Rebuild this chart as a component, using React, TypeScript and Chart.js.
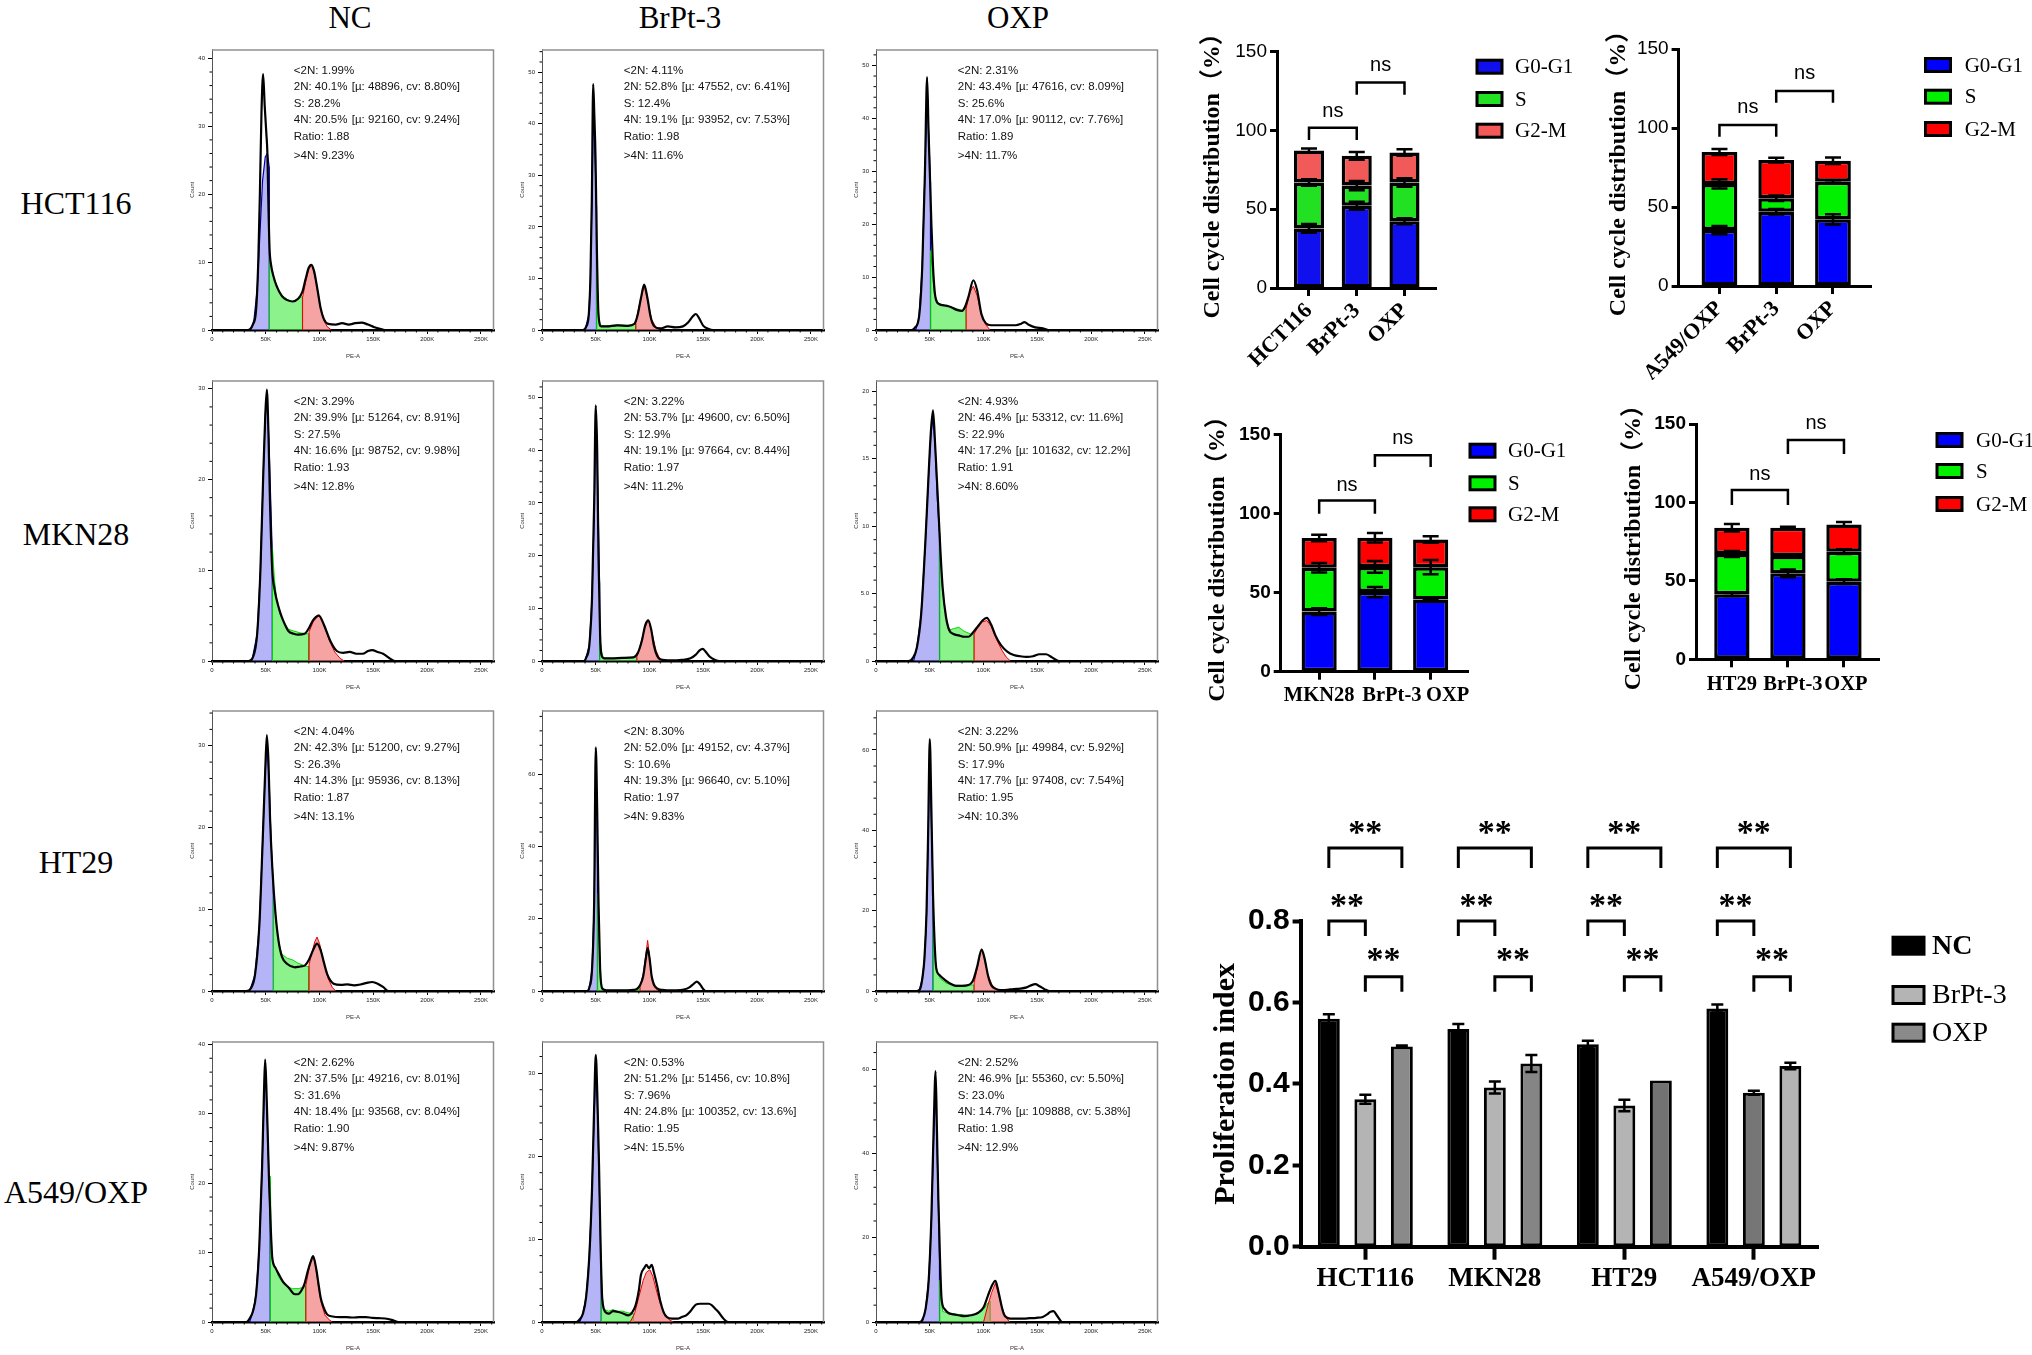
import React, { useEffect, useRef } from 'react';
import { Chart, registerables } from 'chart.js';

Chart.register(...registerables);
Chart.defaults.color = '#000';

const SERIF = "'Liberation Serif', 'Times New Roman', serif";
const SERIF_CJK = "'Liberation Serif', 'Noto Sans CJK SC', 'Noto Sans CJK JP', serif";
const SANS = "'Liberation Sans', Arial, sans-serif";
const NARROW = "'Liberation Sans Narrow', 'Liberation Sans', Arial, sans-serif";

// ---------------- text / categories ----------------
const COLUMN_TITLES = ['NC', 'BrPt-3', 'OXP'];
const ROW_TITLES = ['HCT116', 'MKN28', 'HT29', 'A549/OXP'];
const PEA_TICKS = [0, 50, 100, 150, 200, 250];

// ---------------- flow histograms: [PE-A (K), count] ----------------
const HCT116_NC_total = [[0,0],[33,0],[38,0.8],[41,3],[43,10],[44.5,20],[46,32],[47.5,37.7],[49,33],[50.5,29],[51.5,26],[52.5,18],[53.5,12],[55,9.5],[57,8],[60,6.5],[65,5],[70,4.4],[75,4.2],[80,4.6],[84,5.6],[87,7.5],[90,9.2],[92.5,9.6],[95,8.6],[98,6],[101,3.2],[104,1.6],[108,0.9],[115,0.8],[121,1.0],[127,0.8],[133,1.0],[139,1.1],[145,0.8],[151,0.4],[158,0.1],[162,0],[262,0]];
const HCT116_NC_g1 = [[36,0],[39,1.5],[42,6],[44.5,14],[47,22],[49.5,25.5],[51.5,26],[53.2,24],[53.3,0]];
const HCT116_NC_s = [[53.3,0],[53.4,11],[55,9.3],[58,7.5],[62,5.8],[66,5],[70,4.5],[75,4.2],[80,4.6],[84,4.9],[84.1,0]];
const HCT116_NC_g2 = [[84.1,0],[84.2,4.8],[87,7],[90,9],[92.5,9.5],[95,8.4],[98,6],[101,3.2],[104,1.4],[107,0.5],[111,0]];
const HCT116_NC_stats = ['<2N: 1.99%', '2N: 40.1%', 'S: 28.2%', '4N: 20.5%', 'Ratio: 1.88', '>4N: 9.23%'];
const HCT116_NC_fits = ['[µ: 48896, cv: 8.80%]', '[µ: 92160, cv: 9.24%]'];

const HCT116_BrPt_total = [[0,0],[38,0],[41,0.6],[43.5,3],[45,10],[46.3,25],[47.6,47.7],[48.6,42],[49.8,33],[51,16],[52.5,3],[55,0.7],[60,0.7],[70,0.9],[80,0.8],[86,1.2],[89,3],[92,6.2],[95,8.8],[98,6.2],[101,2.5],[104,0.8],[110,0.3],[117,0.7],[124,0.5],[131,0.7],[136,1.5],[140,2.6],[143,3.1],[146,2.3],[150,0.8],[155,0.2],[159,0],[262,0]];
const HCT116_BrPt_g1 = [[40,0],[43.5,3],[45,10],[46.3,24],[47.6,42],[48.6,38],[49.8,30],[50.6,24],[50.7,0]];
const HCT116_BrPt_s = [[50.7,0],[50.8,16],[51.5,8],[53,2],[55,0.8],[60,0.8],[70,1],[80,0.9],[87,1.2],[87.1,0]];
const HCT116_BrPt_g2 = [[87.1,0],[87.2,1.5],[90,4.5],[95,8.5],[98,6],[102,2],[106,0.5],[109,0]];
const HCT116_BrPt_stats = ['<2N: 4.11%', '2N: 52.8%', 'S: 12.4%', '4N: 19.1%', 'Ratio: 1.98', '>4N: 11.6%'];
const HCT116_BrPt_fits = ['[µ: 47552, cv: 6.41%]', '[µ: 93952, cv: 7.53%]'];

const HCT116_OXP_total = [[0,0],[33,0],[36,0.4],[40,2.5],[43,12],[45.5,30],[47.5,47.8],[48.8,38],[50,30],[51.5,20],[53,12],[55,6.5],[58,5],[65,4.6],[70,4.3],[75,3.8],[80,3.6],[83,4.5],[86,6.3],[90.5,9.4],[94,7.5],[98,3],[102,1.3],[107,0.9],[120,0.9],[130,0.9],[135,1.2],[138,1.5],[142,1.0],[148,0.5],[155,0.3],[160,0],[262,0]];
const HCT116_OXP_g1 = [[37,0],[40,2.5],[43,12],[45.5,30],[47.5,45],[49,37],[50.6,28],[50.7,0]];
const HCT116_OXP_s = [[50.7,0],[50.8,15],[52,12],[54,7],[58,5],[65,4.6],[72,4.2],[80,3.7],[83.6,4.2],[83.7,0]];
const HCT116_OXP_g2 = [[83.7,0],[83.8,4],[87,7],[90.5,8.3],[94,6.5],[98,3],[102,1],[106,0]];
const HCT116_OXP_stats = ['<2N: 2.31%', '2N: 43.4%', 'S: 25.6%', '4N: 17.0%', 'Ratio: 1.89', '>4N: 11.7%'];
const HCT116_OXP_fits = ['[µ: 47616, cv: 8.09%]', '[µ: 90112, cv: 7.76%]'];

const MKN28_NC_total = [[0,0],[34,0],[38,0.4],[42,3],[45,10],[47.5,20],[49.5,27],[51,29.9],[52.5,25],[54,17],[56,10],[58,8],[60,6.8],[63,5.5],[66,4.5],[71,3.3],[76,3],[80,2.9],[86,3],[90,3.6],[94,4.5],[99.4,5.0],[104,4],[110,2.2],[116,1.1],[122,0.9],[128,1.0],[134,0.8],[140,0.8],[145,1.1],[149,1.2],[154,1.0],[159,0.8],[165,0.3],[170,0],[262,0]];
const MKN28_NC_g1 = [[37,0],[42,3],[45,10],[47.5,20],[49.5,27],[51,29.5],[53,24],[56,12],[56.1,0]];
const MKN28_NC_s = [[56.1,0],[56.2,12.5],[58,9],[60,7],[63,5.2],[66,4.5],[71,3.5],[76,3.3],[82,3.1],[88,3],[90,3],[90.1,0]];
const MKN28_NC_g2 = [[90.1,0],[90.2,3.2],[94,4.3],[99.4,5.1],[104,4],[109,2.3],[114,1],[119,0.3],[123,0]];
const MKN28_NC_stats = ['<2N: 3.29%', '2N: 39.9%', 'S: 27.5%', '4N: 16.6%', 'Ratio: 1.93', '>4N: 12.8%'];
const MKN28_NC_fits = ['[µ: 51264, cv: 8.91%]', '[µ: 98752, cv: 9.98%]'];

const MKN28_BrPt_total = [[0,0],[39,0],[41,0.6],[44,3],[46.5,12],[48.5,30],[50,48.5],[51.3,40],[52.5,20],[54,5],[55.5,1],[58,0.5],[65,0.5],[75,0.6],[85,0.7],[89,1.5],[93,4],[96,6.8],[98.8,7.7],[101.5,6],[104,3],[107,1],[110,0.3],[120,0.1],[130,0.2],[138,0.5],[143,1.2],[146.5,2.0],[149.4,2.3],[152,1.8],[156,0.8],[161,0.2],[165,0],[262,0]];
const MKN28_BrPt_g1 = [[40,0],[44,3],[46.5,12],[48.5,28],[50,46],[51.3,38],[53.5,15],[53.6,0]];
const MKN28_BrPt_s = [[53.6,0],[53.7,5.2],[55,2],[57,0.6],[65,0.5],[75,0.6],[85,0.7],[88,0.6],[88.1,0]];
const MKN28_BrPt_g2 = [[88.1,0],[88.2,0.8],[91,2.5],[95,6],[98.8,7.8],[102,5.5],[106,2],[109,0.6],[112,0]];
const MKN28_BrPt_stats = ['<2N: 3.22%', '2N: 53.7%', 'S: 12.9%', '4N: 19.1%', 'Ratio: 1.97', '>4N: 11.2%'];
const MKN28_BrPt_fits = ['[µ: 49600, cv: 6.50%]', '[µ: 97664, cv: 8.44%]'];

const MKN28_OXP_total = [[0,0],[30,0],[34,0.2],[38,1],[42,3.5],[46,9],[49,14],[51,17],[53,18.6],[55,16],[57.8,11.6],[60,8],[62,5.4],[65,3.3],[68,2.3],[72,2],[77,1.9],[82,1.8],[86,1.8],[90,2.1],[95,2.6],[99,3.0],[103,3.2],[107,2.7],[111,1.9],[116,1.2],[122,0.7],[128,0.45],[134,0.35],[140,0.3],[146,0.35],[152,0.5],[158,0.5],[163,0.3],[170,0],[262,0]];
const MKN28_OXP_g1 = [[35,0],[38,1],[42,3.5],[46,9],[49,14],[51,16.8],[53,18],[55,16],[57,12],[59,9.5],[59.1,0]];
const MKN28_OXP_s = [[59.1,0],[59.2,9.5],[60.5,7],[62,5],[65,3.3],[68,2.3],[72,2.4],[77,2.5],[82,2.2],[88,2],[91,2],[91.1,0]];
const MKN28_OXP_g2 = [[91.1,0],[91.2,2],[95,2.6],[99,2.9],[103,3.0],[107,2.6],[112,1.6],[117,0.8],[121,0.3],[125,0]];
const MKN28_OXP_stats = ['<2N: 4.93%', '2N: 46.4%', 'S: 22.9%', '4N: 17.2%', 'Ratio: 1.91', '>4N: 8.60%'];
const MKN28_OXP_fits = ['[µ: 53312, cv: 11.6%]', '[µ: 101632, cv: 12.2%]'];

const HT29_NC_total = [[0,0],[32,0],[36,0.3],[40,2],[44,8],[47,18],[49.5,27],[51,31.3],[52.5,28],[54,21],[56,15.2],[59,9.5],[62,6],[65,4.2],[70,3.3],[77,2.9],[82,3],[86,3.1],[90,3.8],[94,5],[97.6,5.8],[101,5],[104,3.5],[107,2.1],[110,1.3],[113,0.9],[120,0.75],[126,0.8],[132,0.7],[138,0.8],[144,1.0],[149,1.1],[154,0.9],[159,0.5],[164,0],[262,0]];
const HT29_NC_g1 = [[35,0],[40,2],[44,8],[47,18],[49.5,27],[51,30.5],[53,26],[55,18],[57,13],[57.1,0]];
const HT29_NC_s = [[57.1,0],[57.2,13],[58.5,10],[60,8],[62,6],[65,4.5],[70,4],[75,3.8],[80,3.4],[88,3],[90,3],[90.1,0]];
const HT29_NC_g2 = [[90.1,0],[90.2,3.2],[93,4.8],[95.5,6],[97.6,6.6],[100,5.8],[104,3.5],[108,1.5],[112,0.4],[115,0]];
const HT29_NC_stats = ['<2N: 4.04%', '2N: 42.3%', 'S: 26.3%', '4N: 14.3%', 'Ratio: 1.87', '>4N: 13.1%'];
const HT29_NC_fits = ['[µ: 51200, cv: 9.27%]', '[µ: 95936, cv: 8.13%]'];

const HT29_BrPt_total = [[0,0],[42,0],[44,1],[46.5,6],[48.5,25],[50,67.4],[51.3,50],[52.5,25],[54,6.3],[56,0.7],[60,0.2],[70,0.2],[80,0.2],[85,0.3],[88,0.5],[91,1.5],[94,4],[96.5,9],[98.2,11.9],[100,9],[102,4],[104,1.8],[107,0.7],[112,0.3],[116,0.2],[125,0.2],[132,0.4],[137,1],[141,2],[144,2.6],[147,1.8],[150,0.5],[152,0],[262,0]];
const HT29_BrPt_g1 = [[43,0],[44,1],[46.5,6],[48.5,24],[50,60],[51,48],[51.5,40],[51.6,0]];
const HT29_BrPt_s = [[51.6,0],[51.7,27],[53,14],[54,8],[55,3],[56,0.6],[60,0.2],[70,0.2],[80,0.2],[88,0.5],[91,0.6],[91.1,0]];
const HT29_BrPt_g2 = [[91.1,0],[91.2,1.5],[94,4.5],[96.5,10],[98.2,14],[100,9.5],[102,4],[105,1],[108,0]];
const HT29_BrPt_stats = ['<2N: 8.30%', '2N: 52.0%', 'S: 10.6%', '4N: 19.3%', 'Ratio: 1.97', '>4N: 9.83%'];
const HT29_BrPt_fits = ['[µ: 49152, cv: 4.37%]', '[µ: 96640, cv: 5.10%]'];

const HT29_OXP_total = [[0,0],[38,0],[41,0.5],[43,3],[45,8],[47,20],[48.5,40],[50,62.7],[51.5,45],[53,24],[54.5,12],[56,5.7],[59,4],[62,3.2],[68,2],[74,1.3],[80,1.3],[86,1.5],[90,2.5],[94,6],[98.2,10.3],[101,8],[104,4],[107,1.5],[111,0.6],[116,0.25],[122,0.3],[128,0.5],[134,0.6],[140,0.9],[144,1.4],[148,1.7],[152,1.2],[157,0.4],[161,0],[262,0]];
const HT29_OXP_g1 = [[40,0],[43,3],[45,8],[47,19],[48.5,38],[50,60],[51.5,42],[53,25],[53.1,0]];
const HT29_OXP_s = [[53.1,0],[53.2,24],[54,14],[55,8],[57,4.5],[60,3],[65,2],[70,1.5],[80,1.4],[88,1.5],[91,1.5],[91.1,0]];
const HT29_OXP_g2 = [[91.1,0],[91.2,2],[94,5.5],[96.5,9],[98.2,10.5],[101,8],[104,4],[108,1.5],[112,0.4],[115,0]];
const HT29_OXP_stats = ['<2N: 3.22%', '2N: 50.9%', 'S: 17.9%', '4N: 17.7%', 'Ratio: 1.95', '>4N: 10.3%'];
const HT29_OXP_fits = ['[µ: 49984, cv: 5.92%]', '[µ: 97408, cv: 7.54%]'];

const A549_NC_total = [[0,0],[32,0],[35,0.5],[38,1.5],[41,4],[44,11],[46.5,22],[48.3,33],[49.4,37.8],[50.5,34],[52,26],[53,20.4],[54.5,14],[56,9.3],[59,7.8],[62,6.9],[66,5.8],[71,5],[77,4],[80,4],[83,4.5],[86,5.5],[89,7.3],[92,8.8],[94,9.5],[96.5,8],[99,5.5],[101,3.5],[104,2],[107,1.1],[112,0.8],[119,0.7],[125,0.7],[131,0.65],[137,0.7],[143,0.7],[149,0.6],[155,0.55],[161,0.5],[167,0.3],[173,0],[262,0]];
const A549_NC_g1 = [[35,0],[38,1.5],[41,4],[44,11],[46.5,22],[48.3,32],[49.4,36],[50.5,33],[52,26],[53.5,18],[54,14],[54.1,0]];
const A549_NC_s = [[54.1,0],[54.2,21],[55,13],[56,9],[59,7.8],[62,6.5],[66,5.6],[71,5],[75,4.8],[80,4.8],[85,5],[87,5.2],[87.1,0]];
const A549_NC_g2 = [[87.1,0],[87.2,5.2],[90,7.5],[92,8.8],[94,9.5],[96.5,8],[99,5],[102,2.5],[105,1],[109,0.3],[112,0]];
const A549_NC_stats = ['<2N: 2.62%', '2N: 37.5%', 'S: 31.6%', '4N: 18.4%', 'Ratio: 1.90', '>4N: 9.87%'];
const A549_NC_fits = ['[µ: 49216, cv: 8.01%]', '[µ: 93568, cv: 8.04%]'];

const A549_BrPt_total = [[0,0],[32,0],[35,0.3],[38,1],[41,3],[44,8],[46.5,16],[48.5,26],[50,32.2],[51.5,27],[53,19],[54.5,9],[56,2.8],[59,1.2],[62,1],[66,1.3],[71,1.2],[76,1],[80,0.8],[84,1.2],[87,2],[90,3.8],[92,5.7],[95,6.5],[97,6.9],[99.5,6.5],[102,6.9],[104,6],[107,4.4],[110,2.5],[113,1.2],[116,0.6],[121,0.4],[126,0.4],[130,0.6],[134,0.8],[138,1.3],[143,2.1],[147,2.2],[151,2.2],[155,2.2],[158,2.0],[161,1.6],[164,1.2],[168,0.5],[173,0],[262,0]];
const A549_BrPt_g1 = [[35,0],[38,1],[41,3],[44,8],[46.5,16],[48.5,25],[50,31],[51.5,26],[53,18],[55,6],[55.1,0]];
const A549_BrPt_s = [[55.1,0],[55.2,6],[56.5,2.5],[58,1.5],[62,1.3],[66,1.5],[70,1.3],[75,1.3],[80,1.1],[85,1],[85.1,0]];
const A549_BrPt_g2 = [[82,0],[86,1],[90,3],[94,5],[97,6],[100.3,6.3],[103,5.5],[107,3.5],[110,2.2],[114,1],[118,0.3],[122,0]];
const A549_BrPt_stats = ['<2N: 0.53%', '2N: 51.2%', 'S: 7.96%', '4N: 24.8%', 'Ratio: 1.95', '>4N: 15.5%'];
const A549_BrPt_fits = ['[µ: 51456, cv: 10.8%]', '[µ: 100352, cv: 13.6%]'];

const A549_OXP_total = [[0,0],[40,0],[43,0.5],[46,3],[49,10],[51.5,25],[53.5,45],[55.4,59.6],[56.7,45],[58,29],[59.5,15],[61,5.4],[64,3],[67,2.2],[72,1.8],[77,1.6],[82,1.4],[88,1.6],[95,2.2],[100,3.5],[104,6.2],[107.5,8.5],[111,9.8],[114,7],[117,3.5],[119,1.8],[122,1],[125,0.8],[131,0.8],[137,0.8],[143,0.9],[149,1.0],[155,1.2],[159,1.8],[162,2.4],[165,2.6],[168,1.6],[171,0.5],[173,0],[262,0]];
const A549_OXP_g1 = [[43,0],[46,3],[49,10],[51.5,24],[53.5,43],[55.4,56],[56.7,42],[58,28],[59,15],[59.1,0]];
const A549_OXP_s = [[59.1,0],[59.2,10],[60.5,5],[62,2.5],[66,2.2],[70,2],[80,1.7],[90,1.5],[96,2.2],[100,3],[104,4.5],[106,5],[106.1,0]];
const A549_OXP_g2 = [[100,0],[104,4],[107.5,7],[111,9.2],[114,6.5],[117,3.5],[120,1.5],[124,0]];
const A549_OXP_stats = ['<2N: 2.52%', '2N: 46.9%', 'S: 23.0%', '4N: 14.7%', 'Ratio: 1.98', '>4N: 12.9%'];
const A549_OXP_fits = ['[µ: 55360, cv: 5.50%]', '[µ: 109888, cv: 5.38%]'];

// y-axis ranges of the histograms (rows x columns)
const HIST_YMAX = [[41.3, 54.4, 53], [30.9, 53.2, 20.8], [34.3, 77.6, 69.8], [40.4, 33.8, 66.6]];
const HIST_YSTEP = [[10, 10, 10], [10, 10, 5], [10, 20, 20], [10, 10, 20]];

// ---------------- stacked cell-cycle bars ----------------
const CC_HCT116_CATS = ['HCT116', 'BrPt-3', 'OXP'];
const CC_HCT116_G1 = [37.8, 52.2, 42.3];
const CC_HCT116_G1_ERR = [2.8, 2.5, 1.9];
const CC_HCT116_S = [29.2, 12.8, 24.7];
const CC_HCT116_S_ERR = [2.1, 3.0, 2.7];
const CC_HCT116_G2 = [20.3, 18.9, 19.0];
const CC_HCT116_G2_ERR = [1.2, 2.5, 2.1];

const CC_A549_CATS = ['A549/OXP', 'BrPt-3', 'OXP'];
const CC_A549_G1 = [35.4, 47.0, 42.2];
const CC_A549_G1_ERR = [2.6, 1.7, 3.2];
const CC_A549_S = [29.2, 8.5, 23.8];
const CC_A549_S_ERR = [2.9, 1.7, 0.9];
const CC_A549_G2 = [20.2, 24.2, 13.3];
const CC_A549_G2_ERR = [1.9, 1.5, 2.1];

const CC_MKN28_CATS = ['MKN28', 'BrPt-3', 'OXP'];
const CC_MKN28_G1 = [38.0, 50.3, 45.6];
const CC_MKN28_G1_ERR = [2.1, 3.2, 0.7];
const CC_MKN28_S = [27.7, 15.9, 20.4];
const CC_MKN28_S_ERR = [3.0, 3.7, 4.5];
const CC_MKN28_G2 = [18.8, 18.5, 17.5];
const CC_MKN28_G2_ERR = [2.1, 3.0, 2.1];

const CC_HT29_CATS = ['HT29', 'BrPt-3', 'OXP'];
const CC_HT29_G1 = [41.4, 54.8, 49.5];
const CC_HT29_G1_ERR = [1.1, 2.5, 1.5];
const CC_HT29_S = [25.7, 11.1, 19.1];
const CC_HT29_S_ERR = [1.9, 0.5, 1.5];
const CC_HT29_G2 = [16.8, 18.0, 17.4];
const CC_HT29_G2_ERR = [2.4, 0.6, 1.5];

const CC_PHASES = ['G0-G1', 'S', 'G2-M'];
const CC_Y_TITLE = 'Cell cycle distribution（%）';

// ---------------- proliferation index ----------------
const PI_CATS = ['HCT116', 'MKN28', 'HT29', 'A549/OXP'];
const PI_SERIES = ['NC', 'BrPt-3', 'OXP'];
const PI_NC = [0.56, 0.535, 0.497, 0.585];
const PI_NC_ERR = [0.011, 0.012, 0.009, 0.01];
const PI_BRPT = [0.362, 0.391, 0.347, 0.378];
const PI_BRPT_ERR = [0.011, 0.015, 0.014, 0.005];
const PI_OXP = [0.492, 0.45, 0.408, 0.444];
const PI_OXP_ERR = [0.002, 0.021, 0, 0.008];

// ================= layout / style (not data) =================
const HIST_COL_LEFT = [212, 542, 876];
const HIST_ROW_TOP = [49, 380, 710, 1041];
const HIST_W = 282;
const HIST_H = 281;

const HIST_GRID = [
  [
    { total: HCT116_NC_total, g1: HCT116_NC_g1, s: HCT116_NC_s, g2: HCT116_NC_g2, stats: HCT116_NC_stats, fits: HCT116_NC_fits },
    { total: HCT116_BrPt_total, g1: HCT116_BrPt_g1, s: HCT116_BrPt_s, g2: HCT116_BrPt_g2, stats: HCT116_BrPt_stats, fits: HCT116_BrPt_fits },
    { total: HCT116_OXP_total, g1: HCT116_OXP_g1, s: HCT116_OXP_s, g2: HCT116_OXP_g2, stats: HCT116_OXP_stats, fits: HCT116_OXP_fits },
  ],
  [
    { total: MKN28_NC_total, g1: MKN28_NC_g1, s: MKN28_NC_s, g2: MKN28_NC_g2, stats: MKN28_NC_stats, fits: MKN28_NC_fits },
    { total: MKN28_BrPt_total, g1: MKN28_BrPt_g1, s: MKN28_BrPt_s, g2: MKN28_BrPt_g2, stats: MKN28_BrPt_stats, fits: MKN28_BrPt_fits },
    { total: MKN28_OXP_total, g1: MKN28_OXP_g1, s: MKN28_OXP_s, g2: MKN28_OXP_g2, stats: MKN28_OXP_stats, fits: MKN28_OXP_fits },
  ],
  [
    { total: HT29_NC_total, g1: HT29_NC_g1, s: HT29_NC_s, g2: HT29_NC_g2, stats: HT29_NC_stats, fits: HT29_NC_fits },
    { total: HT29_BrPt_total, g1: HT29_BrPt_g1, s: HT29_BrPt_s, g2: HT29_BrPt_g2, stats: HT29_BrPt_stats, fits: HT29_BrPt_fits },
    { total: HT29_OXP_total, g1: HT29_OXP_g1, s: HT29_OXP_s, g2: HT29_OXP_g2, stats: HT29_OXP_stats, fits: HT29_OXP_fits },
  ],
  [
    { total: A549_NC_total, g1: A549_NC_g1, s: A549_NC_s, g2: A549_NC_g2, stats: A549_NC_stats, fits: A549_NC_fits },
    { total: A549_BrPt_total, g1: A549_BrPt_g1, s: A549_BrPt_s, g2: A549_BrPt_g2, stats: A549_BrPt_stats, fits: A549_BrPt_fits },
    { total: A549_OXP_total, g1: A549_OXP_g1, s: A549_OXP_s, g2: A549_OXP_g2, stats: A549_OXP_stats, fits: A549_OXP_fits },
  ],
];

const STACK_CHARTS = [
  {
    key: 'A', cats: CC_HCT116_CATS, vals: [CC_HCT116_G1, CC_HCT116_S, CC_HCT116_G2], errs: [CC_HCT116_G1_ERR, CC_HCT116_S_ERR, CC_HCT116_G2_ERR],
    left: 1190, top: 20, width: 405, height: 360, yAxisW: 87, padTop: 31.7, padRight: 159, xAxisH: 92, titlePad: 8.6,
    xMin: -0.67, xMax: 2.66, rotate: true, tickBold: false, colors: ['#1010ee', '#22e022', '#f25a5a'],
    legendBoxX: 287, legendTextX: 325, legendY: [46.7, 79, 110.7], labelShift: [0, 0, 0], labelDy: 0,
    brackets: [{ from: 0, to: 1, top: 101.7, leg: 94, text: 112 }, { from: 1, to: 2, top: 130.5, leg: 122.7, text: 141 }],
  },
  {
    key: 'B', cats: CC_A549_CATS, vals: [CC_A549_G1, CC_A549_S, CC_A549_G2], errs: [CC_A549_G1_ERR, CC_A549_S_ERR, CC_A549_G2_ERR],
    left: 1595, top: 20, width: 437, height: 360, yAxisW: 83.6, padTop: 29, padRight: 161, xAxisH: 94, titlePad: 9.3,
    xMin: -0.72, xMax: 2.67, rotate: true, tickBold: false, colors: ['#0000ff', '#00f000', '#ff0000'],
    legendBoxX: 330.5, legendTextX: 369.7, legendY: [45, 76.7, 109], labelShift: [0, 0, 0], labelDy: 0,
    brackets: [{ from: 0, to: 1, top: 101.9, leg: 94.5, text: 113 }, { from: 1, to: 2, top: 123.4, leg: 116, text: 134.8 }],
  },
  {
    key: 'C', cats: CC_MKN28_CATS, vals: [CC_MKN28_G1, CC_MKN28_S, CC_MKN28_G2], errs: [CC_MKN28_G1_ERR, CC_MKN28_S_ERR, CC_MKN28_G2_ERR],
    left: 1190, top: 390, width: 405, height: 330, yAxisW: 90.7, padTop: 44.3, padRight: 127, xAxisH: 48.3, titlePad: 13.6,
    xMin: -0.69, xMax: 2.67, rotate: false, tickBold: true, colors: ['#0000ff', '#00f000', '#ff0000'],
    legendBoxX: 280, legendTextX: 318, legendY: [60.7, 93.3, 124.3], labelShift: [0, 17, 17], labelDy: 24,
    brackets: [{ from: 0, to: 1, top: 108.2, leg: 99.8, text: 117.7 }, { from: 1, to: 2, top: 136.7, leg: 129.3, text: 147.2 }],
  },
  {
    key: 'D', cats: CC_HT29_CATS, vals: [CC_HT29_G1, CC_HT29_S, CC_HT29_G2], errs: [CC_HT29_G1_ERR, CC_HT29_S_ERR, CC_HT29_G2_ERR],
    left: 1595, top: 390, width: 437, height: 330, yAxisW: 101, padTop: 34, padRight: 153, xAxisH: 60.7, titlePad: 24.6,
    xMin: -0.64, xMax: 2.625, rotate: false, tickBold: true, colors: ['#0000ff', '#00f000', '#ff0000'],
    legendBoxX: 342, legendTextX: 381, legendY: [50, 81, 114], labelShift: [0, 5, 2], labelDy: 25.7,
    brackets: [{ from: 0, to: 1, top: 107.9, leg: 98.4, text: 118.1 }, { from: 1, to: 2, top: 139.8, leg: 130.9, text: 150.4 }],
  },
];

const PI_LAYOUT = {
  left: 1190, top: 800, width: 842, height: 520, yAxisW: 110.6, padTop: 121, padRight: 213.4, xAxisH: 73.3, titlePad: 18,
  legendBoxX: 703, legendTextX: 742, legendY: [145.7, 195, 232.7],
  legendColors: ['#000000', '#b4b4b4', '#8a8a8a'],
  brpColors: ['#b4b4b4', '#b4b4b4', '#b4b4b4', '#767676'],
  oxpColors: ['#8a8a8a', '#858585', '#727272', '#b4b4b4'],
  brackets: [
    { from: 0, to: 2, top: 0.979, leg: 0.93, text: 1.032 },
    { from: 0, to: 1, top: 0.8, leg: 0.763, text: 0.852 },
    { from: 1, to: 2, top: 0.663, leg: 0.626, text: 0.72 },
  ],
};

// ================= chart builders =================
function histConfig(spec: any, yMax: number, yStep: number) {
  const xy = (a: number[][]) => a.map(([x, y]) => ({ x, y }));
  const decor = {
    id: 'histDecor',
    afterDraw(chart: any) {
      const { ctx, chartArea: a } = chart;
      const xs = chart.scales.x;
      const ys = chart.scales.y;
      ctx.save();
      ctx.strokeStyle = '#909090';
      ctx.lineWidth = 1.5;
      ctx.beginPath();
      ctx.moveTo(a.left, a.top + 0.5);
      ctx.lineTo(a.right - 0.5, a.top + 0.5);
      ctx.lineTo(a.right - 0.5, a.bottom);
      ctx.stroke();
      ctx.strokeStyle = '#000';
      ctx.lineWidth = 1;
      const minor = yStep / 5;
      const n = Math.floor(yMax / minor + 1e-6);
      for (let i = 1; i <= n; i++) {
        if (i % 5 === 0) continue;
        const p = ys.getPixelForValue(i * minor);
        ctx.beginPath();
        ctx.moveTo(a.left, p);
        ctx.lineTo(a.left - 2.5, p);
        ctx.stroke();
      }
      for (let k = 10; k <= 260; k += 10) {
        if (k % 50 === 0) continue;
        const p = xs.getPixelForValue(k);
        ctx.beginPath();
        ctx.moveTo(p, a.bottom);
        ctx.lineTo(p, a.bottom + 2.5);
        ctx.stroke();
      }
      ctx.font = `11.5px ${SANS}`;
      ctx.fillStyle = '#111';
      ctx.textAlign = 'left';
      ctx.textBaseline = 'middle';
      const tx = a.left + (a.right - a.left) * 0.29;
      const offs = [21, 37.5, 54, 70.5, 87, 106];
      spec.stats.forEach((t: string, i: number) => ctx.fillText(t, tx, a.top + offs[i]));
      ctx.fillText(spec.fits[0], tx + 58, a.top + offs[1]);
      ctx.fillText(spec.fits[1], tx + 58, a.top + offs[3]);
      ctx.restore();
    },
  };
  return {
    type: 'line',
    data: {
      datasets: [
        { data: xy(spec.total), borderColor: '#000', borderWidth: 2.2, pointRadius: 0, fill: false, cubicInterpolationMode: 'monotone' },
        { data: xy(spec.g2), borderColor: '#e80000', borderWidth: 1, backgroundColor: 'rgba(240,120,120,0.68)', fill: 'origin', pointRadius: 0 },
        { data: xy(spec.s), borderColor: '#00d800', borderWidth: 1, backgroundColor: 'rgba(70,235,70,0.62)', fill: 'origin', pointRadius: 0 },
        { data: xy(spec.g1), borderColor: '#0000b8', borderWidth: 1.2, backgroundColor: 'rgba(130,130,240,0.6)', fill: 'origin', pointRadius: 0 },
      ],
    },
    options: {
      responsive: false,
      maintainAspectRatio: false,
      animation: false,
      events: [],
      layout: { padding: { top: 6, right: 6, left: 0, bottom: 0 } },
      plugins: { legend: { display: false }, tooltip: { enabled: false } },
      scales: {
        x: {
          type: 'linear', min: 0, max: 262.144,
          afterBuildTicks: (ax: any) => { ax.ticks = PEA_TICKS.map((v) => ({ value: v })); },
          afterFit: (ax: any) => { ax.height = 34; },
          ticks: { callback: (v: number) => (v === 0 ? '0' : `${v}K`), font: { family: SANS, size: 6 }, color: '#222', maxRotation: 0, autoSkip: false, padding: 2 },
          grid: { drawOnChartArea: false, drawTicks: true, tickLength: 4, tickColor: '#000', tickWidth: 1 },
          border: { display: true, color: '#000', width: 2.5 },
          title: { display: true, text: 'PE-A', font: { family: SANS, size: 6 }, color: '#333', padding: { top: 0, bottom: 4.4 } },
        },
        y: {
          type: 'linear', min: 0, max: yMax,
          afterFit: (ax: any) => { ax.width = 32; },
          ticks: {
            stepSize: yStep, includeBounds: false, autoSkip: false,
            callback: (v: number) => (yStep === 5 && v === 5 ? '5.0' : String(v)),
            font: { family: SANS, size: 6 }, color: '#222', padding: 3,
          },
          grid: { drawOnChartArea: false, drawTicks: true, tickLength: 4, tickColor: '#000', tickWidth: 1 },
          border: { display: true, color: '#555', width: 1 },
          title: { display: true, text: 'Count', font: { family: SANS, size: 6 }, color: '#333', padding: { top: 8.4, bottom: 0 } },
        },
      },
    },
    plugins: [decor],
  };
}

function stackConfig(L: any) {
  const decor = {
    id: 'stackDecor',
    afterDatasetsDraw(chart: any) {
      const { ctx } = chart;
      const ys = chart.scales.y;
      const cum = L.cats.map(() => 0);
      ctx.save();
      ctx.strokeStyle = '#000';
      ctx.lineWidth = 2.5;
      chart.data.datasets.forEach((ds: any, i: number) => {
        const meta = chart.getDatasetMeta(i);
        ds.data.forEach((p: any, j: number) => {
          cum[j] += p.y;
          const e = L.errs[i][j];
          const x = meta.data[j].x;
          const yt = ys.getPixelForValue(cum[j] + e);
          const yb = ys.getPixelForValue(cum[j] - e);
          ctx.beginPath();
          ctx.moveTo(x, yb); ctx.lineTo(x, yt);
          ctx.moveTo(x - 8, yt); ctx.lineTo(x + 8, yt);
          ctx.moveTo(x - 8, yb); ctx.lineTo(x + 8, yb);
          ctx.stroke();
        });
      });
      ctx.restore();
    },
    afterDraw(chart: any) {
      const { ctx } = chart;
      const ys = chart.scales.y;
      const xs = chart.scales.x;
      const meta = chart.getDatasetMeta(0);
      ctx.save();
      ctx.strokeStyle = '#000';
      ctx.fillStyle = '#000';
      ctx.lineWidth = 2.5;
      ctx.font = `20px ${SANS}`;
      ctx.textAlign = 'center';
      ctx.textBaseline = 'middle';
      L.brackets.forEach((b: any) => {
        const x1 = meta.data[b.from].x;
        const x2 = meta.data[b.to].x;
        const yTop = ys.getPixelForValue(b.top);
        const yLeg = ys.getPixelForValue(b.leg);
        ctx.beginPath();
        ctx.moveTo(x1, yLeg); ctx.lineTo(x1, yTop); ctx.lineTo(x2, yTop); ctx.lineTo(x2, yLeg);
        ctx.stroke();
        ctx.fillText('ns', (x1 + x2) / 2, ys.getPixelForValue(b.text));
      });
      if (!L.rotate) {
        ctx.font = `bold 20.5px ${SERIF}`;
        L.cats.forEach((c: string, i: number) => {
          ctx.fillText(c, xs.getPixelForValue(i) + L.labelShift[i], xs.top + L.labelDy);
        });
      }
      ctx.textAlign = 'left';
      ctx.font = `21px ${SERIF}`;
      CC_PHASES.forEach((name, i) => {
        const cy = L.legendY[i];
        ctx.fillStyle = L.colors[i];
        ctx.fillRect(L.legendBoxX, cy - 6.5, 25, 13);
        ctx.lineWidth = 3;
        ctx.strokeRect(L.legendBoxX, cy - 6.5, 25, 13);
        ctx.fillStyle = '#000';
        ctx.fillText(name, L.legendTextX, cy + 1);
      });
      ctx.restore();
    },
  };
  const rot = L.rotate ? 45 : 0;
  return {
    type: 'bar',
    data: {
      datasets: CC_PHASES.map((name, i) => ({
        label: name,
        data: L.vals[i].map((v: number, j: number) => ({ x: j, y: v })),
        backgroundColor: L.colors[i],
        borderColor: '#000',
        borderWidth: 3.5,
        borderSkipped: false,
        barPercentage: 0.63,
        categoryPercentage: 1,
        stack: 'cc',
      })),
    },
    options: {
      responsive: false,
      maintainAspectRatio: false,
      animation: false,
      events: [],
      layout: { padding: { top: L.padTop, right: L.padRight, left: 0, bottom: 0 } },
      plugins: { legend: { display: false }, tooltip: { enabled: false } },
      scales: {
        x: {
          type: 'linear', min: L.xMin, max: L.xMax, stacked: true, offset: false,
          afterBuildTicks: (ax: any) => { ax.ticks = L.cats.map((_: string, i: number) => ({ value: i })); },
          afterFit: (ax: any) => { ax.height = L.xAxisH; },
          ticks: {
            display: L.rotate,
            callback: (v: number) => L.cats[v] ?? '', autoSkip: false, minRotation: rot, maxRotation: rot,
            font: { family: SERIF, size: 22, weight: 'bold' }, color: '#000', padding: 2,
          },
          grid: { offset: false, drawOnChartArea: false, drawTicks: true, tickLength: 8, tickWidth: 3, tickColor: '#000' },
          border: { display: true, color: '#000', width: 3 },
        },
        y: {
          min: 0, max: 150, stacked: true,
          afterFit: (ax: any) => { ax.width = L.yAxisW; },
          ticks: { stepSize: 50, font: { family: SANS, size: 19, weight: L.tickBold ? 'bold' : 'normal' }, color: '#000', padding: 3 },
          grid: { drawOnChartArea: false, drawTicks: true, tickLength: 7, tickWidth: 3, tickColor: '#000' },
          border: { display: true, color: '#000', width: 3 },
          title: { display: true, text: CC_Y_TITLE, font: { family: SERIF_CJK, size: 24, weight: 'bold' }, color: '#000', padding: { top: L.titlePad, bottom: 0 } },
        },
      },
    },
    plugins: [decor],
  };
}

function piConfig() {
  const L = PI_LAYOUT;
  const errs = [PI_NC_ERR, PI_BRPT_ERR, PI_OXP_ERR];
  const decor = {
    id: 'piDecor',
    afterDatasetsDraw(chart: any) {
      const { ctx } = chart;
      const ys = chart.scales.y;
      ctx.save();
      ctx.strokeStyle = '#000';
      ctx.lineWidth = 2.5;
      chart.data.datasets.forEach((ds: any, i: number) => {
        const meta = chart.getDatasetMeta(i);
        ds.data.forEach((v: number, j: number) => {
          const e = errs[i][j];
          if (!e) return;
          const x = meta.data[j].x;
          const yt = ys.getPixelForValue(v + e);
          const yb = ys.getPixelForValue(v - e);
          ctx.beginPath();
          ctx.moveTo(x, yb); ctx.lineTo(x, yt);
          ctx.moveTo(x - 6, yt); ctx.lineTo(x + 6, yt);
          ctx.moveTo(x - 6, yb); ctx.lineTo(x + 6, yb);
          ctx.stroke();
        });
      });
      ctx.restore();
    },
    afterDraw(chart: any) {
      const { ctx } = chart;
      const ys = chart.scales.y;
      const metas = [0, 1, 2].map((i) => chart.getDatasetMeta(i));
      ctx.save();
      ctx.strokeStyle = '#000';
      ctx.fillStyle = '#000';
      ctx.lineWidth = 3;
      ctx.font = `bold 34px ${SERIF}`;
      ctx.textAlign = 'center';
      ctx.textBaseline = 'alphabetic';
      PI_CATS.forEach((_, j) => {
        L.brackets.forEach((b) => {
          const x1 = metas[b.from].data[j].x;
          const x2 = metas[b.to].data[j].x;
          const yTop = ys.getPixelForValue(b.top);
          const yLeg = ys.getPixelForValue(b.leg);
          ctx.beginPath();
          ctx.moveTo(x1, yLeg); ctx.lineTo(x1, yTop); ctx.lineTo(x2, yTop); ctx.lineTo(x2, yLeg);
          ctx.stroke();
          ctx.fillText('**', (x1 + x2) / 2, ys.getPixelForValue(b.text) + 16);
        });
      });
      ctx.textAlign = 'left';
      ctx.textBaseline = 'middle';
      PI_SERIES.forEach((name, i) => {
        const cy = L.legendY[i];
        ctx.fillStyle = L.legendColors[i];
        ctx.fillRect(L.legendBoxX, cy - 8.5, 31, 17);
        ctx.lineWidth = 3;
        ctx.strokeRect(L.legendBoxX, cy - 8.5, 31, 17);
        ctx.fillStyle = '#000';
        ctx.font = `${i === 0 ? 'bold ' : ''}28px ${SERIF}`;
        ctx.fillText(name, L.legendTextX, cy + 1);
      });
      ctx.restore();
    },
  };
  const common = { borderColor: '#000', borderWidth: 3, borderSkipped: false, barPercentage: 0.6, categoryPercentage: 0.846 };
  return {
    type: 'bar',
    data: {
      labels: PI_CATS,
      datasets: [
        { label: PI_SERIES[0], data: PI_NC, backgroundColor: '#000', ...common },
        { label: PI_SERIES[1], data: PI_BRPT, backgroundColor: L.brpColors, ...common },
        { label: PI_SERIES[2], data: PI_OXP, backgroundColor: L.oxpColors, ...common },
      ],
    },
    options: {
      responsive: false,
      maintainAspectRatio: false,
      animation: false,
      events: [],
      layout: { padding: { top: L.padTop, right: L.padRight, left: 0, bottom: 0 } },
      plugins: { legend: { display: false }, tooltip: { enabled: false } },
      scales: {
        x: {
          type: 'category', offset: true,
          afterFit: (ax: any) => { ax.height = L.xAxisH; },
          ticks: { font: { family: SERIF, size: 27, weight: 'bold' }, color: '#000', padding: 3, autoSkip: false, maxRotation: 0 },
          grid: { offset: false, drawOnChartArea: false, drawTicks: true, tickLength: 13, tickWidth: 4, tickColor: '#000' },
          border: { display: true, color: '#000', width: 4 },
        },
        y: {
          min: 0, max: 0.8,
          afterFit: (ax: any) => { ax.width = L.yAxisW; },
          ticks: { stepSize: 0.2, callback: (v: number) => v.toFixed(1), font: { family: NARROW, size: 30, weight: 'bold' }, color: '#000', padding: 3 },
          grid: { drawOnChartArea: false, drawTicks: true, tickLength: 8, tickWidth: 4, tickColor: '#000' },
          border: { display: true, color: '#000', width: 4 },
          title: { display: true, text: 'Proliferation index', font: { family: SERIF, size: 30, weight: 'bold' }, color: '#000', padding: { top: L.titlePad, bottom: 0 } },
        },
      },
    },
    plugins: [decor],
  };
}

// ================= components =================
function ChartCanvas({ left, top, width, height, make }: any) {
  const ref = useRef<HTMLCanvasElement>(null);
  useEffect(() => {
    const chart = new Chart(ref.current as HTMLCanvasElement, make());
    return () => chart.destroy();
  }, []);
  return (
    <canvas
      ref={ref}
      width={width}
      height={height}
      style={{ position: 'absolute', left, top, width, height }}
    />
  );
}

const HEADER_X = [350, 680, 1018];
const ROW_LABEL_Y = [203, 534, 862, 1192];

export default function App() {
  return (
    <div style={{ position: 'absolute', left: 0, top: 0, width: 2032, height: 1355, background: '#fff', overflow: 'hidden' }}>
      {COLUMN_TITLES.map((t, i) => (
        <div
          key={t}
          style={{ position: 'absolute', left: HEADER_X[i], top: 17, transform: 'translate(-50%, -50%)', fontFamily: SERIF, fontSize: 31, lineHeight: 1, whiteSpace: 'nowrap', color: '#000' }}
        >
          {t}
        </div>
      ))}
      {ROW_TITLES.map((t, i) => (
        <div
          key={t}
          style={{ position: 'absolute', left: 76, top: ROW_LABEL_Y[i], transform: 'translate(-50%, -50%)', fontFamily: SERIF, fontSize: 32, lineHeight: 1, whiteSpace: 'nowrap', color: '#000' }}
        >
          {t}
        </div>
      ))}
      {HIST_GRID.map((row, r) =>
        row.map((spec, c) => (
          <ChartCanvas
            key={`h${r}${c}`}
            left={HIST_COL_LEFT[c] - 32}
            top={HIST_ROW_TOP[r] - 6}
            width={HIST_W + 38}
            height={HIST_H + 40}
            make={() => histConfig(spec, HIST_YMAX[r][c], HIST_YSTEP[r][c])}
          />
        ))
      )}
      {STACK_CHARTS.map((L) => (
        <ChartCanvas key={L.key} left={L.left} top={L.top} width={L.width} height={L.height} make={() => stackConfig(L)} />
      ))}
      <ChartCanvas left={PI_LAYOUT.left} top={PI_LAYOUT.top} width={PI_LAYOUT.width} height={PI_LAYOUT.height} make={piConfig} />
    </div>
  );
}
